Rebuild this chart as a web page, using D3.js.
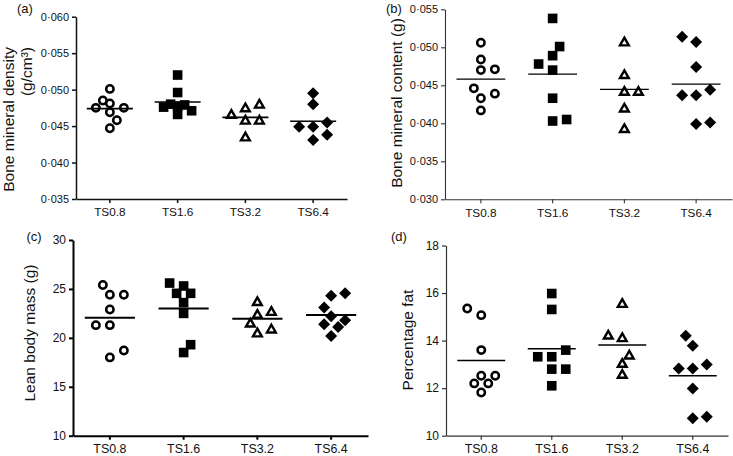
<!DOCTYPE html>
<html><head><meta charset="utf-8">
<script src="https://cdn.jsdelivr.net/npm/d3@7"></script>
<style>
body{margin:0;background:#fff;}
svg{display:block;font-family:"Liberation Sans",Arial,Helvetica,sans-serif;}
</style></head><body>
<svg id="chart" width="733" height="456"></svg>
<script>
// ---------- data ----------
const categories = ["TS0.8", "TS1.6", "TS3.2", "TS6.4"];

// (a) Bone mineral density (g/cm3)
const bmdValues = [
  [0.0501, 0.0485, 0.0481, 0.0475, 0.0475, 0.0469, 0.0458, 0.0447],
  [0.0520, 0.0496, 0.0480, 0.0479, 0.0477, 0.0476, 0.0471, 0.0466],
  [0.0480, 0.0475, 0.0466, 0.0458, 0.0458, 0.0435],
  [0.0495, 0.0480, 0.0455, 0.0449, 0.0449, 0.0438, 0.0431]
];
// (b) Bone mineral content (g)
const bmcValues = [
  [0.0506, 0.0484, 0.0471, 0.0470, 0.0446, 0.0439, 0.0433, 0.0417],
  [0.0538, 0.0501, 0.0489, 0.0478, 0.0470, 0.0433, 0.0405, 0.0403],
  [0.0507, 0.0464, 0.0442, 0.0442, 0.0420, 0.0393],
  [0.0514, 0.0507, 0.0474, 0.0444, 0.0437, 0.0437, 0.0401, 0.0399]
];
// (c) Lean body mass (g)
const leanValues = [
  [25.4, 24.4, 24.4, 22.9, 21.3, 21.3, 18.7, 18.0],
  [25.6, 25.3, 24.55, 24.55, 23.6, 22.5, 19.3, 18.5],
  [23.7, 22.7, 22.4, 21.5, 20.9, 20.5],
  [24.55, 24.3, 23.1, 22.2, 21.8, 21.4, 21.1, 20.2]
];
// (d) Percentage fat
const fatValues = [
  [15.35, 15.07, 13.6, 12.52, 12.52, 12.2, 12.2, 11.82],
  [15.98, 15.31, 13.6, 13.32, 13.32, 12.8, 12.8, 12.1],
  [15.56, 14.23, 14.12, 13.39, 13.04, 12.58],
  [14.2, 13.78, 13.0, 12.83, 12.83, 11.99, 10.8, 10.73]
];

const bmdTicks = [0.035, 0.040, 0.045, 0.050, 0.055, 0.060];
const bmcTicks = [0.030, 0.035, 0.040, 0.045, 0.050, 0.055];
const leanTicks = [10, 15, 20, 25, 30];
const fatTicks = [10, 12, 14, 16, 18];

// ---------- layout ----------
const svg = d3.select("#chart");
const dotFmt = v => d3.format(".3f")(v).replace(".", "\u00B7");
const intFmt = d3.format("d");

const panels = [
  { label: "(a)", lx: 17, ly: 12.5, values: bmdValues, ticks: bmdTicks, fmt: dotFmt,
    yTop: 16.7, yBot: 199, x0: 76, x1: 347, axisW: 1.5, axisC: "#111", meanW: 1.6,
    yFont: 11, xFont: 11.8,
    titles: [{ text: "Bone mineral density", x: 14, y: 47, anchor: "end", size: 15.5 },
             { text: "(g/cm\u00B3)", x: 32, y: 47, anchor: "end", size: 15.5 }] },
  { label: "(b)", lx: 386, ly: 12.5, values: bmcValues, ticks: bmcTicks, fmt: dotFmt,
    yTop: 9.3, yBot: 199.3, x0: 445, x1: 732, axisW: 1.1, axisC: "#333", meanW: 1.3,
    yFont: 11, xFont: 11.8,
    titles: [{ text: "Bone mineral content (g)", x: 402, y: 103, anchor: "middle", size: 15.5 }] },
  { label: "(c)", lx: 26.5, ly: 240.5, values: leanValues, ticks: leanTicks, fmt: intFmt,
    yTop: 240, yBot: 435.7, x0: 73, x1: 368, axisW: 2, axisC: "#000", meanW: 2,
    yFont: 12, xFont: 12.4,
    titles: [{ text: "Lean body mass (g)", x: 35, y: 333, anchor: "middle", size: 15.5 }] },
  { label: "(d)", lx: 391, ly: 240.5, values: fatValues, ticks: fatTicks, fmt: intFmt,
    yTop: 245.5, yBot: 435.7, x0: 446, x1: 728, axisW: 1.2, axisC: "#333", meanW: 1.5,
    yFont: 12, xFont: 12.4,
    titles: [{ text: "Percentage fat", x: 413, y: 340, anchor: "middle", size: 15.5 }] }
];

// marker drawers per group
const markers = [
  g => g.append("circle").attr("r", 3.7).attr("fill", "#fff").attr("stroke", "#000").attr("stroke-width", 2.5),
  g => g.append("rect").attr("x", -4.8).attr("y", -4.8).attr("width", 9.6).attr("height", 9.6).attr("fill", "#000"),
  g => g.append("path").attr("d", "M0,-4.3L4.4,3.4L-4.4,3.4Z").attr("fill", "#fff").attr("stroke", "#000")
        .attr("stroke-width", 2.4).attr("stroke-linejoin", "miter"),
  g => g.append("path").attr("d", "M0,-6L6,0L0,6L-6,0Z").attr("fill", "#000")
];

// deterministic slot beeswarm
function swarm(vals, y, slot, D, maxK) {
  const order = vals.map((v, i) => i).sort((a, b) => vals[a] - vals[b]);
  const placed = [];
  const off = new Array(vals.length);
  let side = 1;
  for (const i of order) {
    const py = y(vals[i]);
    const cands = [0];
    for (let k = 1; k <= maxK; k++) cands.push(side * k * slot, -side * k * slot);
    let chosen = null, best = null, bestD = -1;
    for (const c of cands) {
      const md = placed.length ? d3.min(placed, p => Math.hypot(p.x - c, p.y - py)) : Infinity;
      if (md >= D) { chosen = c; break; }
      if (md > bestD + 0.5) { bestD = md; best = c; }
    }
    if (chosen === null) chosen = best;
    if (chosen !== 0) side = chosen > 0 ? -1 : 1;
    off[i] = chosen;
    placed.push({ x: chosen, y: py });
  }
  return off;
}

panels.forEach(p => {
  const g = svg.append("g");
  const dom = [p.ticks[0], p.ticks[p.ticks.length - 1]];
  const y = d3.scaleLinear().domain(dom).range([p.yBot, p.yTop]);
  const x = d3.scaleBand().domain(categories).range([p.x0, p.x1]);
  const bw = x.bandwidth();

  const ya = g.append("g").attr("transform", `translate(${p.x0},0)`)
    .call(d3.axisLeft(y).tickValues(p.ticks).tickFormat(p.fmt).tickSize(4).tickSizeOuter(0).tickPadding(3));
  const xa = g.append("g").attr("transform", `translate(0,${p.yBot})`)
    .call(d3.axisBottom(x).tickSize(4).tickSizeOuter(0).tickPadding(5));
  [ya, xa].forEach(a => {
    a.selectAll("path.domain").attr("stroke", p.axisC).attr("stroke-width", p.axisW);
    a.selectAll(".tick line").attr("stroke", p.axisC).attr("stroke-width", p.axisW);
    a.selectAll("text").attr("fill", "#111").attr("font-family", "Liberation Sans, Arial, sans-serif");
  });
  ya.selectAll("text").attr("font-size", p.yFont);
  xa.selectAll("text").attr("font-size", p.xFont);

  p.values.forEach((vals, gi) => {
    const cx = x(categories[gi]) + bw / 2;
    const offs = swarm(vals, y, 7, 10.5, 2);
    vals.forEach((v, i) => {
      const m = g.append("g").attr("transform", `translate(${cx + offs[i]},${y(v)})`);
      markers[gi](m);
    });
    const mean = d3.mean(vals);
    g.append("line")
      .attr("x1", cx - bw * 0.34).attr("x2", cx + bw * 0.34)
      .attr("y1", y(mean)).attr("y2", y(mean))
      .attr("stroke", "#000").attr("stroke-width", p.meanW);
  });

  g.append("text").attr("x", p.lx).attr("y", p.ly).attr("font-size", 13).attr("fill", "#111").text(p.label);
  p.titles.forEach(t => {
    g.append("text").attr("transform", `translate(${t.x},${t.y}) rotate(-90)`)
      .attr("text-anchor", t.anchor).attr("font-size", t.size).attr("fill", "#111")
      .text(t.text);
  });
});
</script>
</body></html>
